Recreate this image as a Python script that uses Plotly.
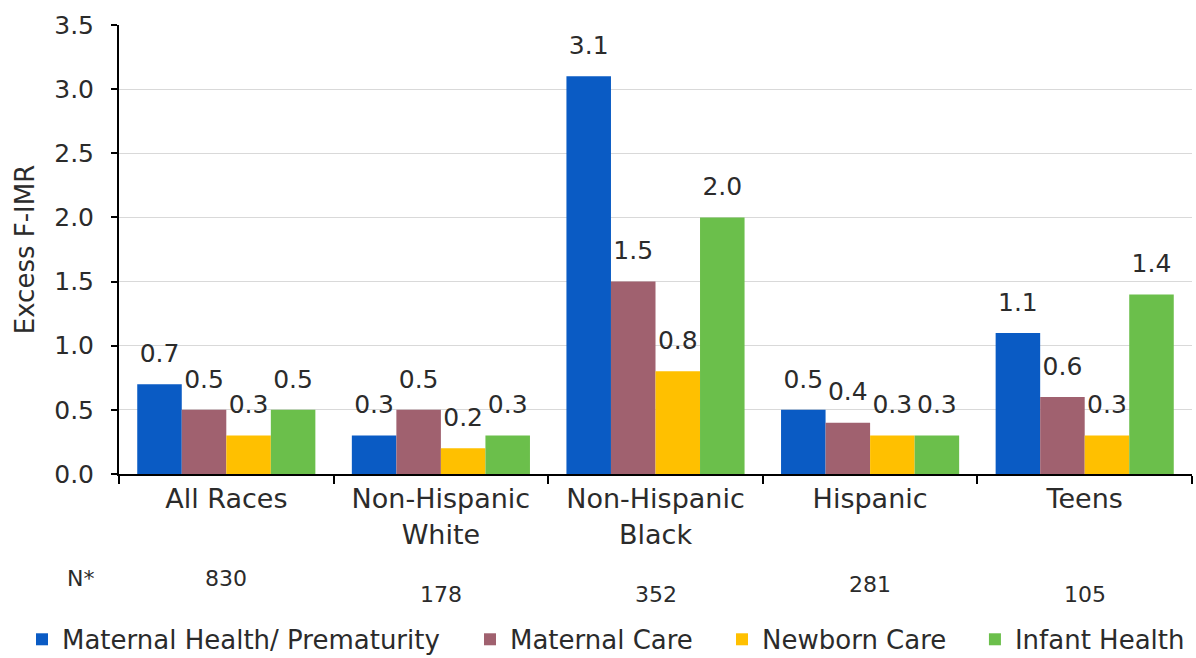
import plotly.graph_objects as go

# ---- data ----
CATEGORIES = ["All Races", "Non-Hispanic<br>White", "Non-Hispanic<br>Black", "Hispanic", "Teens"]
SERIES_NAMES = ["Maternal Health/ Prematurity", "Maternal Care", "Newborn Care", "Infant Health"]
MATERNAL_HEALTH = [0.7, 0.3, 3.1, 0.5, 1.1]
MATERNAL_CARE = [0.5, 0.5, 1.5, 0.4, 0.6]
NEWBORN_CARE = [0.3, 0.2, 0.8, 0.3, 0.3]
INFANT_HEALTH = [0.5, 0.3, 2.0, 0.3, 1.4]
N_LABEL = "N*"
N_VALUES = [830, 178, 352, 281, 105]
Y_TICKS = [0.0, 0.5, 1.0, 1.5, 2.0, 2.5, 3.0, 3.5]
Y_TITLE = "Excess F-IMR"

# ---- styles ----
COLORS = ["#0A5BC4", "#A0616F", "#FFC000", "#6BBF4B"]
FONT = "DejaVu Sans"
TEXT_COLOR = "#2b2b2b"
BARGAP = 0.17
N_Y = [-0.232, -0.268, -0.268, -0.245, -0.268]  # paper y positions of N row
LEGEND_X = [-0.0904, 0.3271, 0.5620, 0.7977]
LEGEND_IDS = ["legend", "legend2", "legend3", "legend4"]

series_values = [MATERNAL_HEALTH, MATERNAL_CARE, NEWBORN_CARE, INFANT_HEALTH]

fig = go.Figure()
for i, (name, vals, col) in enumerate(zip(SERIES_NAMES, series_values, COLORS)):
    fig.add_trace(go.Bar(
        x=CATEGORIES, y=vals, name=name,
        marker=dict(color=col, line=dict(width=0)),
        offsetgroup=str(i), alignmentgroup="g",
        legend=LEGEND_IDS[i],
        hoverinfo="skip",
    ))

for i, (name, vals) in enumerate(zip(SERIES_NAMES, series_values)):
    fig.add_trace(go.Scatter(
        x=CATEGORIES, y=vals, mode="markers+text",
        text=[f"{v:.1f}" for v in vals],
        textposition="top center",
        textfont=dict(family=FONT, size=25, color=TEXT_COLOR),
        marker=dict(size=24, color="rgba(0,0,0,0)"),
        orientation="v",
        offsetgroup=str(i), alignmentgroup="g",
        showlegend=False, hoverinfo="skip", cliponaxis=False,
    ))

annotations = [dict(
    x=-0.036, xref="paper", y=N_Y[0], yref="paper", text=N_LABEL,
    showarrow=False, font=dict(family=FONT, size=22, color=TEXT_COLOR),
    xanchor="center", yanchor="middle")]
for cat, n, yy in zip(CATEGORIES, N_VALUES, N_Y):
    annotations.append(dict(
        x=cat, xref="x", y=yy, yref="paper", text=str(n),
        showarrow=False, font=dict(family=FONT, size=22, color=TEXT_COLOR),
        xanchor="center", yanchor="middle"))

legend_layout = {}
for lid, lx in zip(LEGEND_IDS, LEGEND_X):
    legend_layout[lid] = dict(
        orientation="h", x=lx, xanchor="left", y=-0.316, yanchor="top",
        font=dict(family=FONT, size=26, color=TEXT_COLOR),
        bgcolor="rgba(0,0,0,0)", itemwidth=30,
    )

fig.update_layout(
    width=1196, height=658,
    margin=dict(l=119, r=4, t=25, b=184, autoexpand=False),
    paper_bgcolor="white", plot_bgcolor="white",
    barmode="group", bargap=BARGAP, bargroupgap=0,
    scattermode="group", scattergap=BARGAP,
    font=dict(family=FONT, color=TEXT_COLOR),
    showlegend=True,
    annotations=annotations,
    **legend_layout,
)
fig.update_yaxes(
    range=[0, 3.5], tickvals=Y_TICKS, tickformat=".1f",
    showline=True, linecolor="black", linewidth=2,
    ticks="outside", ticklen=6, tickwidth=2, tickcolor="black",
    showgrid=True, gridcolor="#d9d9d9", gridwidth=1, zeroline=False,
    tickfont=dict(family=FONT, size=25, color=TEXT_COLOR),
    ticklabelstandoff=12, automargin=False,
    title=dict(text=Y_TITLE, font=dict(family=FONT, size=26, color=TEXT_COLOR), standoff=12),
)
fig.update_xaxes(
    showline=True, linecolor="black", linewidth=2,
    ticks="outside", ticklen=8, tickwidth=2, tickcolor="black",
    tickson="boundaries", showgrid=False, automargin=False,
    tickfont=dict(family=FONT, size=27, color=TEXT_COLOR),
)

fig.write_html("out.html", config={"displayModeBar": False},
               post_script="document.body.style.margin='0';")
